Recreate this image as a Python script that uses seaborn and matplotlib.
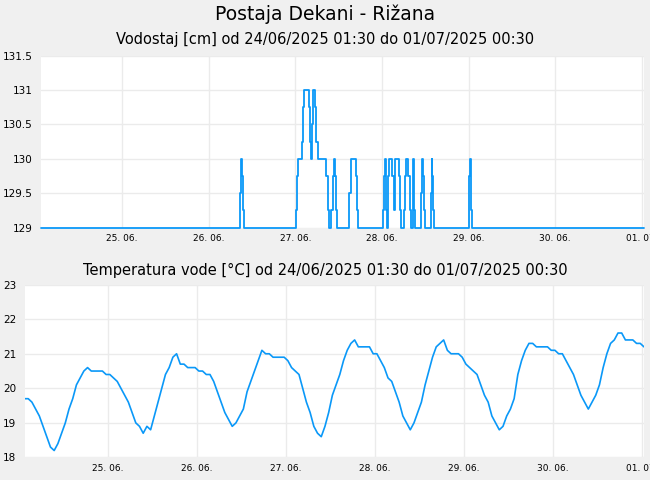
import pandas as pd
import numpy as np
import matplotlib.pyplot as plt
import matplotlib.dates as mdates
import matplotlib.ticker as mticker
import seaborn as sns

# Vodostaj: trenutki spremembe (ure od 24.06.2025 00:00) in nivo v cm
level_hours = [1.5, 56.75, 57.0, 57.25, 57.5, 57.75,
               72.25, 72.5, 72.75, 73.75, 74.25, 74.5, 75.75, 76.0, 76.25,
               76.75, 77.0, 77.5, 77.75, 78.25, 80.5, 81.0, 81.25,
               82.0, 82.5, 82.75, 83.0, 83.25, 83.5,
               87.0, 87.5, 88.75, 89.0, 89.25,
               96.25, 96.5, 96.75, 97.0, 97.25, 97.5, 97.75, 98.0,
               98.75, 99.25, 99.5, 99.75, 100.75, 101.0, 101.25,
               102.25, 102.5, 102.75, 103.25, 103.75, 104.0,
               104.5, 104.75, 104.9, 105.0, 105.25,
               106.9, 107.15, 107.4, 107.6, 107.9,
               109.5, 109.75, 110.0, 110.25, 110.4,
               120.0, 120.25, 120.4, 120.6, 120.75, 121.0, 168.5]
level_cm = [129.0, 129.5, 130.0, 129.75, 129.25, 129.0,
            129.25, 129.75, 130.0, 130.25, 130.75, 131.0, 130.75, 130.25, 130.0,
            130.5, 131.0, 130.75, 130.25, 130.0, 129.75, 129.25, 129.0,
            129.25, 129.75, 130.0, 129.75, 129.25, 129.0,
            129.5, 130.0, 129.75, 129.25, 129.0,
            129.25, 129.75, 130.0, 129.75, 129.25, 129.0, 129.75, 130.0,
            129.75, 129.25, 129.75, 130.0, 129.75, 129.25, 129.0,
            129.25, 129.75, 130.0, 129.75, 129.25, 129.0,
            129.5, 130.0, 129.75, 129.25, 129.0,
            129.5, 130.0, 129.75, 129.25, 129.0,
            129.5, 130.0, 129.75, 129.25, 129.0,
            129.25, 129.75, 130.0, 129.75, 129.25, 129.0, 129.0]

# Temperatura vode, urne vrednosti od 24.06.2025 01:30
temp_c = [19.7, 19.7, 19.6, 19.4, 19.2, 18.9, 18.6, 18.3, 18.2, 18.4,
          18.7, 19.0, 19.4, 19.7, 20.1, 20.3, 20.5, 20.6, 20.5, 20.5,
          20.5, 20.5, 20.4, 20.4, 20.3, 20.2, 20.0, 19.8, 19.6, 19.3,
          19.0, 18.9, 18.7, 18.9, 18.8, 19.2, 19.6, 20.0, 20.4, 20.6,
          20.9, 21.0, 20.7, 20.7, 20.6, 20.6, 20.6, 20.5, 20.5, 20.4,
          20.4, 20.2, 19.9, 19.6, 19.3, 19.1, 18.9, 19.0, 19.2, 19.4,
          19.9, 20.2, 20.5, 20.8, 21.1, 21.0, 21.0, 20.9, 20.9, 20.9,
          20.9, 20.8, 20.6, 20.5, 20.4, 20.0, 19.6, 19.3, 18.9, 18.7,
          18.6, 18.9, 19.3, 19.8, 20.1, 20.4, 20.8, 21.1, 21.3, 21.4,
          21.2, 21.2, 21.2, 21.2, 21.0, 21.0, 20.8, 20.6, 20.3, 20.2,
          19.9, 19.6, 19.2, 19.0, 18.8, 19.0, 19.3, 19.6, 20.1, 20.5,
          20.9, 21.2, 21.3, 21.4, 21.1, 21.0, 21.0, 21.0, 20.9, 20.7,
          20.6, 20.5, 20.4, 20.1, 19.8, 19.6, 19.2, 19.0, 18.8, 18.9,
          19.2, 19.4, 19.7, 20.4, 20.8, 21.1, 21.3, 21.3, 21.2, 21.2,
          21.2, 21.2, 21.1, 21.1, 21.0, 21.0, 20.8, 20.6, 20.4, 20.1,
          19.8, 19.6, 19.4, 19.6, 19.8, 20.1, 20.6, 21.0, 21.3, 21.4,
          21.6, 21.6, 21.4, 21.4, 21.4, 21.3, 21.3, 21.2]

level_ticks = [129, 129.5, 130, 130.5, 131, 131.5]
temp_ticks = [18, 19, 20, 21, 22, 23]

start = pd.Timestamp('2025-06-24 01:30')
end = pd.Timestamp('2025-07-01 00:30')

vodostaj = pd.DataFrame({
    'cas': pd.Timestamp('2025-06-24') + pd.to_timedelta(level_hours, unit='h'),
    'nivo': level_cm})
temperatura = pd.DataFrame({
    'cas': pd.date_range(start, periods=len(temp_c), freq='h'),
    'temp': temp_c})

sns.set_theme(style='white')
plt.rcParams['font.family'] = ['DejaVu Sans']
plt.rcParams['text.color'] = 'black'

barva = '#0a98f8'
fig = plt.figure(figsize=(6.5, 4.8), dpi=100, facecolor='#f0f0f0')
ax1 = fig.add_axes([0.063, 0.526, 0.927, 0.358])
ax2 = fig.add_axes([0.0377, 0.047, 0.953, 0.360])

sns.lineplot(data=vodostaj, x='cas', y='nivo', ax=ax1, color=barva,
             drawstyle='steps-post', linewidth=1.3, estimator=None, clip_on=False)
sns.lineplot(data=temperatura, x='cas', y='temp', ax=ax2, color=barva,
             linewidth=1.2, estimator=None)

for ax, ticks in [(ax1, level_ticks), (ax2, temp_ticks)]:
    ax.set_facecolor('white')
    ax.set_xlim(start, end)
    ax.set_ylim(ticks[0], ticks[-1])
    ax.set_yticks(ticks)
    ax.yaxis.set_major_formatter(mticker.FuncFormatter(lambda v, p: f'{v:g}'))
    ax.xaxis.set_major_locator(mdates.DayLocator())
    ax.xaxis.set_major_formatter(mdates.DateFormatter('%d. %m.'))
    ax.grid(True, color='#ebebeb', linewidth=1)
    ax.tick_params(axis='y', length=0, labelsize=7.5, pad=6, labelcolor='black')
    ax.tick_params(axis='x', length=0, labelsize=6.5, pad=5, labelcolor='black')
    ax.set_xlabel('')
    ax.set_ylabel('')
    for s in ax.spines.values():
        s.set_visible(False)

fig.text(0.5, 0.971, 'Postaja Dekani - Rižana', ha='center', va='center',
         fontsize=13.5, color='black')
fig.text(0.5, 0.917, 'Vodostaj [cm] od 24/06/2025 01:30 do 01/07/2025 00:30',
         ha='center', va='center', fontsize=10.5, color='black')
fig.text(0.5, 0.4375, 'Temperatura vode [°C] od 24/06/2025 01:30 do 01/07/2025 00:30',
         ha='center', va='center', fontsize=10.5, color='black')

fig.savefig('out.png', dpi=100, facecolor=fig.get_facecolor())
